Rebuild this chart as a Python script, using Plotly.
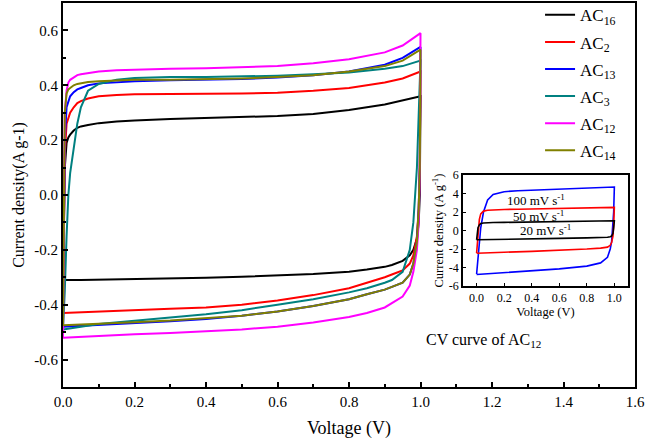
import plotly.graph_objects as go

# ---- main CV curves (current density, A/g) ----
V_FWD = [0.0, 0.005, 0.01, 0.015, 0.02, 0.03, 0.04, 0.05, 0.07, 0.1, 0.15, 0.2,
         0.3, 0.4, 0.5, 0.6, 0.7, 0.8, 0.9, 0.95, 1.0]
V_REV = [1.0, 0.998, 0.995, 0.99, 0.98, 0.97, 0.95, 0.92, 0.9, 0.85, 0.8, 0.7,
         0.6, 0.5, 0.4, 0.3, 0.2, 0.1, 0.05, 0.0]

AC16_FWD = [-0.31, 0.10, 0.19, 0.21, 0.22, 0.235, 0.245, 0.25, 0.255, 0.262, 0.268,
            0.272, 0.277, 0.28, 0.283, 0.288, 0.295, 0.31, 0.33, 0.345, 0.36]
AC16_REV = [0.36, 0.0, -0.1, -0.16, -0.2, -0.22, -0.24, -0.255, -0.262, -0.272,
            -0.28, -0.288, -0.294, -0.298, -0.302, -0.305, -0.307, -0.309, -0.31, -0.31]

AC2_FWD = [-0.43, 0.15, 0.26, 0.285, 0.30, 0.32, 0.335, 0.342, 0.352, 0.36, 0.365,
           0.367, 0.368, 0.368, 0.37, 0.373, 0.38, 0.39, 0.41, 0.425, 0.45]
AC2_REV = [0.45, 0.1, -0.05, -0.15, -0.22, -0.25, -0.275, -0.29, -0.30, -0.32,
           -0.34, -0.365, -0.385, -0.40, -0.41, -0.415, -0.42, -0.425, -0.428, -0.43]

AC13_FWD = [-0.48, 0.2, 0.32, 0.345, 0.36, 0.375, 0.385, 0.39, 0.40, 0.407, 0.412,
            0.415, 0.418, 0.42, 0.423, 0.428, 0.437, 0.45, 0.475, 0.50, 0.54]
AC13_REV = [0.54, 0.1, -0.05, -0.17, -0.25, -0.29, -0.32, -0.335, -0.345, -0.362,
            -0.38, -0.405, -0.425, -0.44, -0.452, -0.46, -0.467, -0.473, -0.476, -0.48]

AC3_FWD = [-0.49, -0.35, -0.15, 0.0, 0.08, 0.18, 0.26, 0.32, 0.38, 0.405, 0.42,
           0.427, 0.43, 0.43, 0.432, 0.435, 0.44, 0.447, 0.46, 0.47, 0.49]
AC3_REV = [0.49, 0.4, 0.3, 0.1, -0.1, -0.2, -0.28, -0.31, -0.32, -0.34,
           -0.355, -0.38, -0.40, -0.42, -0.435, -0.447, -0.46, -0.47, -0.48, -0.49]

AC12_FWD = [-0.52, 0.3, 0.38, 0.41, 0.42, 0.43, 0.437, 0.44, 0.445, 0.45, 0.455,
            0.457, 0.46, 0.462, 0.465, 0.47, 0.48, 0.495, 0.52, 0.545, 0.59]
AC12_REV = [0.59, 0.1, -0.1, -0.2, -0.28, -0.33, -0.37, -0.395, -0.41, -0.43,
            -0.445, -0.465, -0.48, -0.49, -0.497, -0.503, -0.508, -0.513, -0.516, -0.52]

AC14_FWD = [-0.475, 0.3, 0.37, 0.385, 0.39, 0.40, 0.405, 0.408, 0.412, 0.415, 0.418,
            0.42, 0.42, 0.422, 0.425, 0.43, 0.437, 0.45, 0.47, 0.49, 0.53]
AC14_REV = [0.53, 0.1, -0.05, -0.17, -0.25, -0.29, -0.32, -0.335, -0.345, -0.362,
            -0.38, -0.405, -0.425, -0.44, -0.45, -0.458, -0.464, -0.47, -0.473, -0.475]

SERIES = [
    ("AC<sub>16</sub>", AC16_FWD, AC16_REV, "#000000"),
    ("AC<sub>2</sub>", AC2_FWD, AC2_REV, "#FF0000"),
    ("AC<sub>13</sub>", AC13_FWD, AC13_REV, "#0000FF"),
    ("AC<sub>3</sub>", AC3_FWD, AC3_REV, "#008080"),
    ("AC<sub>12</sub>", AC12_FWD, AC12_REV, "#FF00FF"),
    ("AC<sub>14</sub>", AC14_FWD, AC14_REV, "#808000"),
]

# ---- inset: CV of AC12 at different scan rates ----
IV_FWD = [0.0, 0.01, 0.02, 0.03, 0.05, 0.08, 0.12, 0.2, 0.3, 0.5, 0.7, 0.9, 0.98, 1.0]
IV_REV = [1.0, 0.995, 0.99, 0.98, 0.97, 0.95, 0.9, 0.8, 0.6, 0.4, 0.2, 0.05, 0.0]

R100_FWD = [-4.7, -3.0, -1.2, 0.3, 2.0, 3.3, 3.9, 4.2, 4.3, 4.4, 4.5, 4.6, 4.65, 4.7]
R100_REV = [4.7, 2.0, 0.5, -1.2, -2.0, -2.9, -3.5, -3.85, -4.15, -4.35, -4.55, -4.7, -4.75]
R50_FWD = [-2.45, -0.5, 1.2, 1.8, 2.1, 2.2, 2.25, 2.28, 2.3, 2.35, 2.4, 2.45, 2.48, 2.5]
R50_REV = [2.5, 0.5, -0.6, -1.3, -1.6, -1.8, -1.9, -2.0, -2.15, -2.25, -2.35, -2.42, -2.45]
R20_FWD = [-1.0, 0.3, 0.6, 0.75, 0.82, 0.85, 0.86, 0.88, 0.9, 0.93, 0.97, 1.0, 1.02, 1.05]
R20_REV = [1.05, 0.3, -0.3, -0.6, -0.68, -0.73, -0.76, -0.8, -0.85, -0.9, -0.94, -0.98, -1.0]

INSET = [
    ("100 mV s<sup>-1</sup>", R100_FWD, R100_REV, "#0000FF"),
    ("50 mV s<sup>-1</sup>", R50_FWD, R50_REV, "#FF0000"),
    ("20 mV s<sup>-1</sup>", R20_FWD, R20_REV, "#000000"),
]

MAIN_Y_TICKS = [-0.6, -0.4, -0.2, 0.0, 0.2, 0.4, 0.6]
MAIN_Y_TEXT = ["-0.6", "-0.4", "-0.2", "0.0", "0.2", "0.4", "0.6"]
INSET_Y_TICKS = [-6, -4, -2, 0, 2, 4, 6]
INSET_Y_TEXT = ["-6", "-4", "-2", "0", "2", "4", "6"]

FONT = "Liberation Serif, Times New Roman, serif"

fig = go.Figure()

for i, (name, fwd, rev, color) in enumerate(SERIES):
    fig.add_trace(go.Scatter(
        x=V_FWD + V_REV, y=fwd + rev, mode="lines", name=name,
        legendgroup=f"g{i}",
        line=dict(color=color, width=2),
    ))

for label, fwd, rev, color in INSET:
    fig.add_trace(go.Scatter(
        x=IV_FWD + IV_REV, y=fwd + rev, mode="lines", showlegend=False,
        line=dict(color=color, width=1.6), xaxis="x2", yaxis="y2",
    ))

axis_common = dict(
    showline=True, linecolor="black", linewidth=2, mirror=True,
    ticks="inside", tickcolor="black", showgrid=False, zeroline=False,
)

fig.update_layout(
    width=646, height=444,
    margin=dict(l=63, r=11, t=3, b=57, autoexpand=False),
    paper_bgcolor="white", plot_bgcolor="white",
    font=dict(family=FONT, color="black", size=15),
    showlegend=True,
    legend=dict(
        x=0.834, y=1.015, xanchor="left", yanchor="top",
        bgcolor="rgba(0,0,0,0)", font=dict(size=17, family=FONT),
        tracegroupgap=2,
    ),
    xaxis=dict(
        range=[0, 1.6], dtick=0.2, tickformat=".1f", ticklen=5, tickwidth=1.5,
        minor=dict(ticks="inside", dtick=0.1, ticklen=3, tickcolor="black"),
        title=dict(text="Voltage (V)", standoff=12),
        **axis_common,
    ),
    yaxis=dict(
        range=[-0.7, 0.7], tickvals=MAIN_Y_TICKS, ticktext=MAIN_Y_TEXT,
        ticklen=5, tickwidth=1.5,
        minor=dict(ticks="inside", tickvals=[-0.5, -0.3, -0.1, 0.1, 0.3, 0.5],
                   ticklen=3, tickcolor="black"),
        title=dict(text="Current density(A g-1)", standoff=6, font=dict(size=16)),
        **axis_common,
    ),
    xaxis2=dict(
        domain=[0.699, 0.988], anchor="y2", range=[-0.1, 1.1], dtick=0.2,
        tickformat=".1f", ticklen=3, tickfont=dict(size=12),
        title=dict(text="Voltage (V)", font=dict(size=12.5), standoff=2),
        **{**axis_common, "linewidth": 1.5},
    ),
    yaxis2=dict(
        domain=[0.263, 0.552], anchor="x2", range=[-6, 6],
        tickvals=INSET_Y_TICKS, ticktext=INSET_Y_TEXT, ticklen=3,
        tickfont=dict(size=12),
        title=dict(text="Current density (A g<sup>-1</sup>)", font=dict(size=12.5),
                   standoff=2),
        **{**axis_common, "linewidth": 1.5},
    ),
)

# scan-rate labels inside the inset
for (label, _, _, _), (lx, ly) in zip(INSET, [(0.43, 3.35), (0.45, 1.55), (0.5, 0.05)]):
    fig.add_annotation(x=lx, y=ly, xref="x2", yref="y2", text=label, showarrow=False,
                       font=dict(size=13, family=FONT))

fig.add_annotation(x=0.839, y=0.122, xref="paper", yref="paper", yanchor="middle",
                   text="CV curve of AC<sub>12</sub>", showarrow=False,
                   font=dict(size=16, family=FONT))

# page body has a default 8px margin; drop it so the figure sits at the corner
fig.write_html("out.html", config={"displayModeBar": False},
               post_script="document.body.style.margin='0';")
